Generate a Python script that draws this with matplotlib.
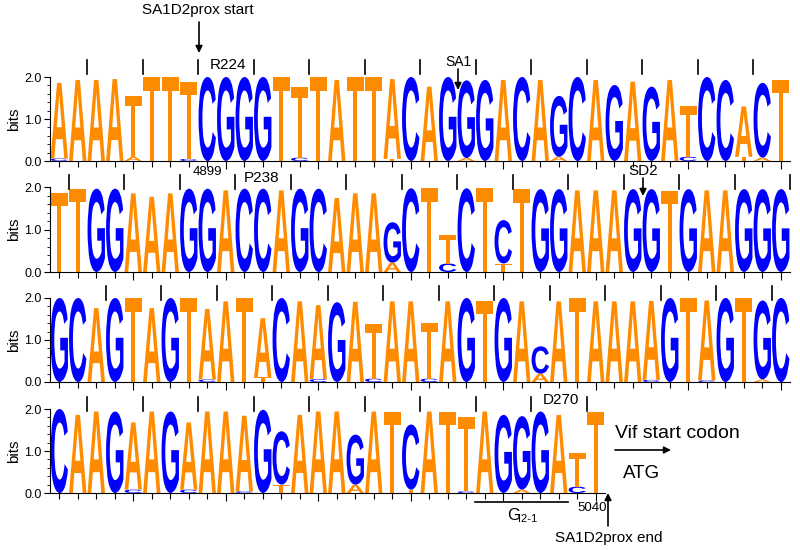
import matplotlib
matplotlib.use("Agg")
import matplotlib.pyplot as plt
from matplotlib.textpath import TextPath
from matplotlib.patches import PathPatch
from matplotlib.font_manager import FontProperties
from matplotlib.transforms import Affine2D
from matplotlib.ticker import MultipleLocator

plt.rcParams['font.family'] = ['Liberation Sans', 'DejaVu Sans']

# ----------------------------------------------------------------------
# sequence logo data, one row of the figure at a time
# main letter + bits, plus the small letter drawn underneath (pos -> (letter, bits))
# ----------------------------------------------------------------------
row1_seq = "AAAATTTTCGGGTTTATTACAGGGACAGCAGAGATCCACT"
row1_bits = [1.80, 1.93, 1.93, 1.95, 1.45, 2.00, 2.00, 1.82, 2.00, 2.00,
             2.00, 2.00, 2.00, 1.68, 2.00, 1.93, 2.00, 2.00, 1.90, 2.00,
             1.77, 2.00, 1.85, 1.93, 1.93, 2.00, 1.93, 1.45, 2.00, 1.93,
             1.81, 1.89, 1.77, 1.93, 1.20, 2.00, 1.93, 1.20, 1.78, 1.93]
row1_minor = {1: ('C', 0.06), 5: ('A', 0.10), 8: ('C', 0.05), 14: ('C', 0.08),
              19: ('T', 0.05), 23: ('A', 0.07), 28: ('A', 0.10), 35: ('C', 0.10),
              38: ('T', 0.10), 39: ('A', 0.08)}

row2_seq = "TTGGAAAGGACCAGCAAAGCTTCTCTGGAAAGGTGAAGGG"
row2_bits = [1.85, 1.96, 1.96, 1.96, 1.85, 1.77, 1.85, 1.96, 1.96, 1.92,
             1.96, 1.96, 1.92, 1.96, 1.96, 1.74, 1.85, 1.85, 0.95, 1.97,
             1.97, 0.67, 1.97, 1.97, 1.02, 1.95, 1.95, 1.95, 1.92, 1.92,
             1.92, 1.95, 1.95, 1.90, 1.95, 1.92, 1.92, 1.95, 1.95, 1.95]
row2_minor = {19: ('A', 0.22), 22: ('C', 0.20), 25: ('T', 0.20)}

row3_seq = "GCAGTAGTAATACAAGATAATAGTGACATAAAAGTAGTGC"
row3_bits = [2.00, 2.00, 1.76, 2.00, 2.00, 1.76, 2.00, 2.00, 1.68, 1.92,
             2.00, 1.40, 2.00, 1.92, 1.76, 1.90, 1.91, 1.30, 1.92, 1.92,
             1.33, 1.92, 2.00, 1.92, 2.00, 1.92, 0.65, 1.92, 2.00, 1.92,
             1.92, 1.92, 1.88, 2.00, 2.00, 1.90, 2.00, 2.00, 1.88, 2.00]
row3_minor = {9: ('C', 0.06), 12: ('T', 0.12), 15: ('C', 0.07), 18: ('C', 0.08),
              21: ('C', 0.08), 27: ('A', 0.20), 33: ('C', 0.05), 36: ('C', 0.04),
              39: ('A', 0.06)}

row4_seq = "CAAGAAGAAAAGCAAAGATCATTAGGGATT"
row4_bits = [2.00, 1.86, 1.94, 1.94, 1.60, 1.94, 1.94, 1.60, 1.94, 1.94,
             1.80, 1.98, 1.27, 1.86, 1.94, 1.94, 1.19, 1.94, 1.94, 1.55,
             1.94, 1.94, 1.78, 1.94, 1.86, 1.75, 1.94, 1.86, 0.80, 1.94]
row4_minor = {5: ('C', 0.08), 8: ('C', 0.08), 11: ('C', 0.04), 13: ('T', 0.20),
              17: ('A', 0.20), 20: ('T', 0.08), 23: ('C', 0.04), 26: ('A', 0.08),
              29: ('C', 0.15)}

rows = [(row1_seq, row1_bits, row1_minor),
        (row2_seq, row2_bits, row2_minor),
        (row3_seq, row3_bits, row3_minor),
        (row4_seq, row4_bits, row4_minor)]

# codon marks: boundary after position k
codon_marks = [list(range(2, 40, 3)), list(range(1, 41, 3)),
               list(range(3, 40, 3)), list(range(2, 30, 3))]

colors = {'A': '#FF8C00', 'T': '#FF8C00', 'G': '#0000FF', 'C': '#0000FF'}

# pixel layout (top of 2.0, bottom of 0.0) for each row
row_px = [(77, 161), (187, 272), (298, 382), (409, 493)]
W, H = 800, 550
left_px = 50
slot = 18.5

font = FontProperties(family='Liberation Sans', weight='bold')
glyphs = {ch: TextPath((0, 0), ch, size=1, prop=font) for ch in 'ACGT'}


def draw_letter(ax, ch, x, y0, h, width=0.94):
    tp = glyphs[ch]
    bb = tp.get_extents()
    tr = (Affine2D().translate(-bb.x0, -bb.y0)
          .scale(width / bb.width, h / bb.height)
          .translate(x - width / 2.0, y0))
    ax.add_patch(PathPatch(tr.transform_path(tp), facecolor=colors[ch],
                           edgecolor='none', clip_on=False))


fig = plt.figure(figsize=(W / 100, H / 100), dpi=100)

for r, (seq, bits, minor) in enumerate(rows):
    top, bot = row_px[r]
    n = len(seq)
    ax = fig.add_axes([left_px / W, 1 - bot / H, n * slot / W, (bot - top) / H])
    for i, ch in enumerate(seq):
        pos = i + 1
        base = 0.0
        if pos in minor:
            mch, mh = minor[pos]
            draw_letter(ax, mch, pos, 0.0, mh)
            base = mh
        draw_letter(ax, ch, pos, base, bits[i])

    # codon marks above the letters
    if r == 0:
        y0, y1 = 2.07, 2.40
    else:
        y0, y1 = 1.95, 2.28
    for k in codon_marks[r]:
        ax.plot([k + 0.5, k + 0.5], [y0, y1], color='black', lw=1.2,
                clip_on=False)

    ax.set_xlim(0.5, n + 0.5)
    ax.set_ylim(0, 2.0)
    ax.set_yticks([0, 1, 2])
    ax.set_yticklabels(['0.0', '1.0', '2.0'], fontsize=9)
    ax.yaxis.set_minor_locator(MultipleLocator(0.2))
    ax.set_xticks(range(5, n + 1, 5))
    ax.set_xticks(range(1, n + 1), minor=True)
    ax.set_xticklabels([])
    ax.tick_params(axis='x', which='major', length=6, width=0.8)
    ax.tick_params(axis='x', which='minor', length=4, width=0.8)
    ax.tick_params(axis='y', which='major', length=4, width=0.8, pad=2)
    ax.tick_params(axis='y', which='minor', length=2, width=0.6)
    ax.spines['top'].set_visible(False)
    ax.spines['right'].set_visible(False)
    ax.set_ylabel('bits', fontsize=11, labelpad=2)
    ax.patch.set_visible(False)

# overlay in pixel coordinates for the annotations
ov = fig.add_axes([0, 0, 1, 1])
ov.set_xlim(0, W)
ov.set_ylim(H, 0)
ov.axis('off')

arrow = dict(arrowstyle='-|>', lw=1.2, color='black', mutation_scale=10,
             shrinkA=0, shrinkB=0)

ov.text(198, 10, 'SA1D2prox start', fontsize=11, ha='center', va='center')
ov.annotate('', xy=(199, 53), xytext=(199, 22), arrowprops=arrow)
ov.text(228, 65, 'R224', fontsize=11, ha='center', va='center')
ov.text(458, 62, 'SA1', fontsize=10, ha='center', va='center')
ov.annotate('', xy=(458, 90), xytext=(458, 69), arrowprops=arrow)
ov.text(207, 172, '4899', fontsize=9.5, ha='center', va='center')
ov.text(262, 178, 'P238', fontsize=11, ha='center', va='center')
ov.text(643, 171, 'SD2', fontsize=11, ha='center', va='center')
ov.annotate('', xy=(643, 196), xytext=(643, 178), arrowprops=arrow)
ov.text(561, 400, 'D270', fontsize=11, ha='center', va='center')
ov.text(615, 434, 'Vif start codon', fontsize=14, ha='left', va='center')
ov.annotate('', xy=(671, 450), xytext=(615, 450), arrowprops=arrow)
ov.text(623, 473, 'ATG', fontsize=13.5, ha='left', va='center')
ov.plot([475, 568], [502, 502], color='black', lw=1.2)
ov.text(507, 515, 'G', fontsize=12, ha='left', va='center')
ov.text(518, 519, 'I2-1', fontsize=8, ha='left', va='center')
ov.text(592, 508, '5040', fontsize=9.5, ha='center', va='center')
ov.annotate('', xy=(608, 493), xytext=(608, 526), arrowprops=arrow)
ov.text(609, 538, 'SA1D2prox end', fontsize=11, ha='center', va='center')

fig.savefig('out.png', dpi=100)
plt.close()
